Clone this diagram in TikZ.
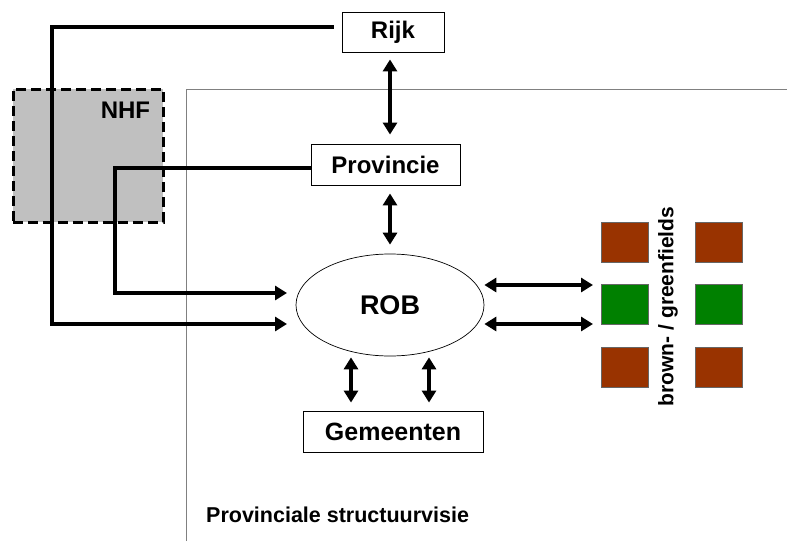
\documentclass[tikz,border=0pt]{standalone}
\usepackage{fontspec}
\setmainfont{Liberation Sans}
\usetikzlibrary{arrows.meta,shapes.geometric,positioning}
\definecolor{brownfield}{RGB}{153,51,0}
\definecolor{greenfield}{RGB}{0,128,0}
\definecolor{nhfgray}{RGB}{192,192,192}
\begin{document}
\begin{tikzpicture}[x=1pt, y=-1pt,
        >={Triangle[length=12pt,width=14pt]},
        box/.style={draw, line width=0.9pt, fill=white, inner sep=0pt, font=\bfseries\fontsize{24}{28}\selectfont},
        field/.style={draw=black!60, line width=0.7pt, minimum width=47pt, minimum height=40pt, inner sep=0pt},
        link/.style={line width=3.6pt}]
    \useasboundingbox (0,0) rectangle (787,541);
    % frame of the structuurvisie
    \draw [line width=1pt, black!50] (186,541) |- (787,89);
    \node [anchor=west, inner sep=0pt, font=\bfseries\fontsize{21.5}{26}\selectfont] (psv) at (206,515) {Provinciale structuurvisie};
    % NHF area
    \node [draw, dash pattern=on 10pt off 5pt, line width=3pt, fill=nhfgray, minimum width=150pt, minimum height=133pt] (nhf) at (88,155.5) {};
    \node [inner sep=0pt, font=\bfseries\fontsize{24}{28}\selectfont] (nhflabel) at (125.5,110.5) {NHF};
    % actors
    \node [box, minimum width=102pt, minimum height=40pt] (rijk) at (393,32) {Rijk};
    \node [box, minimum width=149pt, minimum height=41pt] (prov) at (385.5,164.5) {Provincie};
    \node [draw, ellipse, line width=0.7pt, minimum width=188pt, minimum height=102pt, inner sep=0pt, font=\bfseries\fontsize{27}{32}\selectfont] (rob) at (390,305) {ROB};
    \node [box, minimum width=180pt, minimum height=41pt, font=\bfseries\fontsize{25}{30}\selectfont] (gem) at (393,431.5) {Gemeenten};
    % brown- and greenfields
    \node [field, fill=brownfield] (bf1) at (624.5,242) {};
    \node [field, fill=brownfield] (bf2) at (718.5,242) {};
    \node [field, fill=greenfield] (gf1) at (624.5,304.5) {};
    \node [field, fill=greenfield] (gf2) at (718.5,304.5) {};
    \node [field, fill=brownfield] (bf3) at (624.5,367.5) {};
    \node [field, fill=brownfield] (bf4) at (718.5,367.5) {};
    \node [rotate=90, inner sep=0pt, font=\bfseries\fontsize{21}{25}\selectfont] (fieldlabel) at (668,306.5) {brown- / greenfields};
    % free ends of the connectors
    \coordinate (corner1) at (52,324);
    \coordinate (robin1) at (287,324);
    \coordinate (corner2) at (115,293);
    \coordinate (robin2) at (287,293);
    \coordinate (fieldhi) at (593,285);
    \coordinate (fieldlo) at (593,324);
    % connectors
    \draw [link, ->, shorten <=8pt] ([yshift=5pt]rijk.west) -| (corner1) -- (robin1);
    \draw [link, ->] ([yshift=-3.5pt]prov.west) -| (corner2) -- (robin2);
    \draw [link, <->, shorten <=7pt, shorten >=9pt] (rijk.south -| rob) -- (prov.north -| rob);
    \draw [link, <->, shorten <=8pt, shorten >=9pt] (prov.south -| rob) -- (rob.north);
    \draw [link, <->, shorten <=1pt, shorten >=8pt] ([xshift=-39pt]rob.south) -- ([xshift=-42pt]gem.north);
    \draw [link, <->, shorten <=1pt, shorten >=8pt] ([xshift=39pt]rob.south) -- ([xshift=36pt]gem.north);
    \draw [link, <->] (rob.east |- fieldhi) -- (fieldhi);
    \draw [link, <->] (rob.east |- fieldlo) -- (fieldlo);
\end{tikzpicture}
\end{document}
